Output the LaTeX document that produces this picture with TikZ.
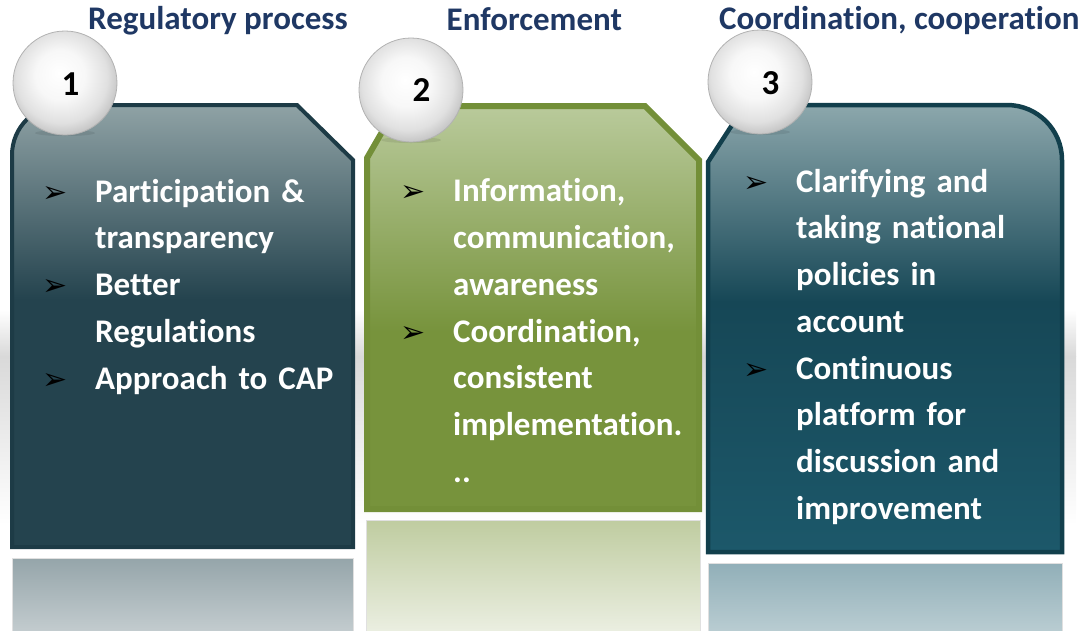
\documentclass[tikz,border=0pt]{standalone}
\usepackage{fontspec}
\setmainfont{Carlito}[Ligatures=CommonOff]
\newfontfamily\bulletfont{DejaVu Sans}
\definecolor{titlenavy}{HTML}{1F3864}
\definecolor{pAlight}{HTML}{8FA2A5}
\definecolor{pAdark}{HTML}{24434E}
\definecolor{pAborder}{HTML}{1D3B46}
\definecolor{pBlight}{HTML}{B9CA9B}
\definecolor{pBdark}{HTML}{77933C}
\definecolor{pBborder}{HTML}{738F38}
\definecolor{pClight}{HTML}{8CA7AC}
\definecolor{pCmid}{HTML}{164756}
\definecolor{pCdark}{HTML}{1C586A}
\definecolor{pCborder}{HTML}{123F4C}
\definecolor{bandgray}{HTML}{D9D9D9}
\definecolor{rAtop}{HTML}{95A5AA}
\definecolor{rAbot}{HTML}{C8D0D3}
\definecolor{rBtop}{HTML}{BFCCA0}
\definecolor{rBbot}{HTML}{EEF1E6}
\definecolor{rCtop}{HTML}{91AFB8}
\definecolor{rCbot}{HTML}{BED0D5}
\pgfdeclareverticalshading{panelA}{100bp}{color(0bp)=(pAdark); color(25bp)=(pAdark); color(53bp)=(pAdark); color(75bp)=(pAlight); color(100bp)=(pAlight)}
\pgfdeclareverticalshading{panelB}{100bp}{color(0bp)=(pBdark); color(25bp)=(pBdark); color(47bp)=(pBdark); color(75bp)=(pBlight); color(100bp)=(pBlight)}
\pgfdeclareverticalshading{panelC}{100bp}{color(0bp)=(pCdark); color(25bp)=(pCdark); color(53bp)=(pCmid); color(75bp)=(pClight); color(100bp)=(pClight)}
\pgfdeclareradialshading{sphereshade}{\pgfpoint{-3bp}{5bp}}{color(0bp)=(white); color(12bp)=(white!97!black); color(22bp)=(white!88!black); color(27bp)=(white!78!black); color(50bp)=(white!78!black)}
\tikzset{
  titletext/.style={font=\fontsize{33}{40}\selectfont\bfseries, text=titlenavy, anchor=base west, inner sep=0pt},
  itemtext/.style={font=\fontsize{33}{46.8}\selectfont\bfseries, text=white, anchor=base west, inner sep=0pt, align=left, text width=300pt},
  bullet/.style={font=\bulletfont\fontsize{30}{30}\selectfont, anchor=base west, inner sep=0pt},
  numtext/.style={font=\fontsize{35}{40}\selectfont\bfseries, anchor=base, inner sep=0pt},
  sphere/.style={circle, minimum size=104pt, inner sep=0pt, shading=sphereshade, draw=white!70!black, line width=0.8pt},
  reflection/.style={draw=white!88!black, line width=0.8pt}
}
\begin{document}
\begin{tikzpicture}[x=1pt,y=-1pt]
\useasboundingbox (0,0) rectangle (1088,630);
% background band
\shade[top color=white, bottom color=bandgray] (0,310) rectangle (1076,356);
\shade[top color=bandgray, bottom color=white] (0,356) rectangle (1076,525);
% reflections
\shade[reflection, top color=rAtop, bottom color=rAbot] (12,558) rectangle (353,640);
\shade[reflection, top color=rBtop, bottom color=rBbot] (366,520) rectangle (700,640);
\shade[reflection, top color=rCtop, bottom color=rCbot] (708,563) rectangle (1062,640);
% panels
\draw[pAborder, line width=4pt, shading=panelA] (12,547) -- (12,155) arc[start angle=180,end angle=270,radius=50] -- (297,105) -- (353,160) -- (353,547) -- cycle;
\draw[pBborder, line width=6pt, shading=panelB] (367,509) -- (367,158) -- (397,106) -- (645,106) -- (699,160) -- (699,509) -- cycle;
\draw[pCborder, line width=4.5pt, shading=panelC] (708,552) -- (708,162) -- (745,105) -- (1007,105) arc[start angle=270,end angle=360,radius=55] -- (1062,552) -- cycle;
% titles
\node[titletext] (t1) at (88,29.5) {Regulatory process};
\node[titletext] (t2) at (446.5,30) {Enforcement};
\node[titletext] (t3) at (719,29.5) {Coordination, cooperation};
% spheres
\fill[black, opacity=0.08] (65,133) ellipse (30 and 3);
\fill[black, opacity=0.08] (411,140) ellipse (30 and 3);
\fill[black, opacity=0.08] (760,132) ellipse (30 and 3);
\node[sphere] (s1) at (65,83) {};
\node[sphere] (s2) at (411,90) {};
\node[sphere] (s3) at (760,82) {};
\node[numtext] (n1) at (70.5,95) {1};
\node[numtext] (n2) at (421.5,101.5) {2};
\node[numtext] (n3) at (770.5,94) {3};
% panel 1 items
\node[bullet] (b11) at (42,202) {➢};
\node[itemtext] (i11) at (95,202) {Participation \&\\transparency};
\node[bullet] (b12) at (42,295.5) {➢};
\node[itemtext] (i12) at (95,295.5) {Better\\Regulations};
\node[bullet] (b13) at (42,389) {➢};
\node[itemtext] (i13) at (95,389) {Approach to CAP};
% panel 2 items
\node[bullet] (b21) at (400,201.5) {➢};
\node[itemtext] (i21) at (453,201.5) {Information,\\communication,\\awareness};
\node[bullet] (b22) at (400,342) {➢};
\node[itemtext] (i22) at (453,342) {Coordination,\\consistent\\implementation.\\..};
% panel 3 items
\node[bullet] (b31) at (743,192) {➢};
\node[itemtext] (i31) at (796,192) {Clarifying and\\taking national\\policies in\\account};
\node[bullet] (b32) at (743,379) {➢};
\node[itemtext] (i32) at (796,379) {Continuous\\platform for\\discussion and\\improvement};
\end{tikzpicture}
\end{document}
